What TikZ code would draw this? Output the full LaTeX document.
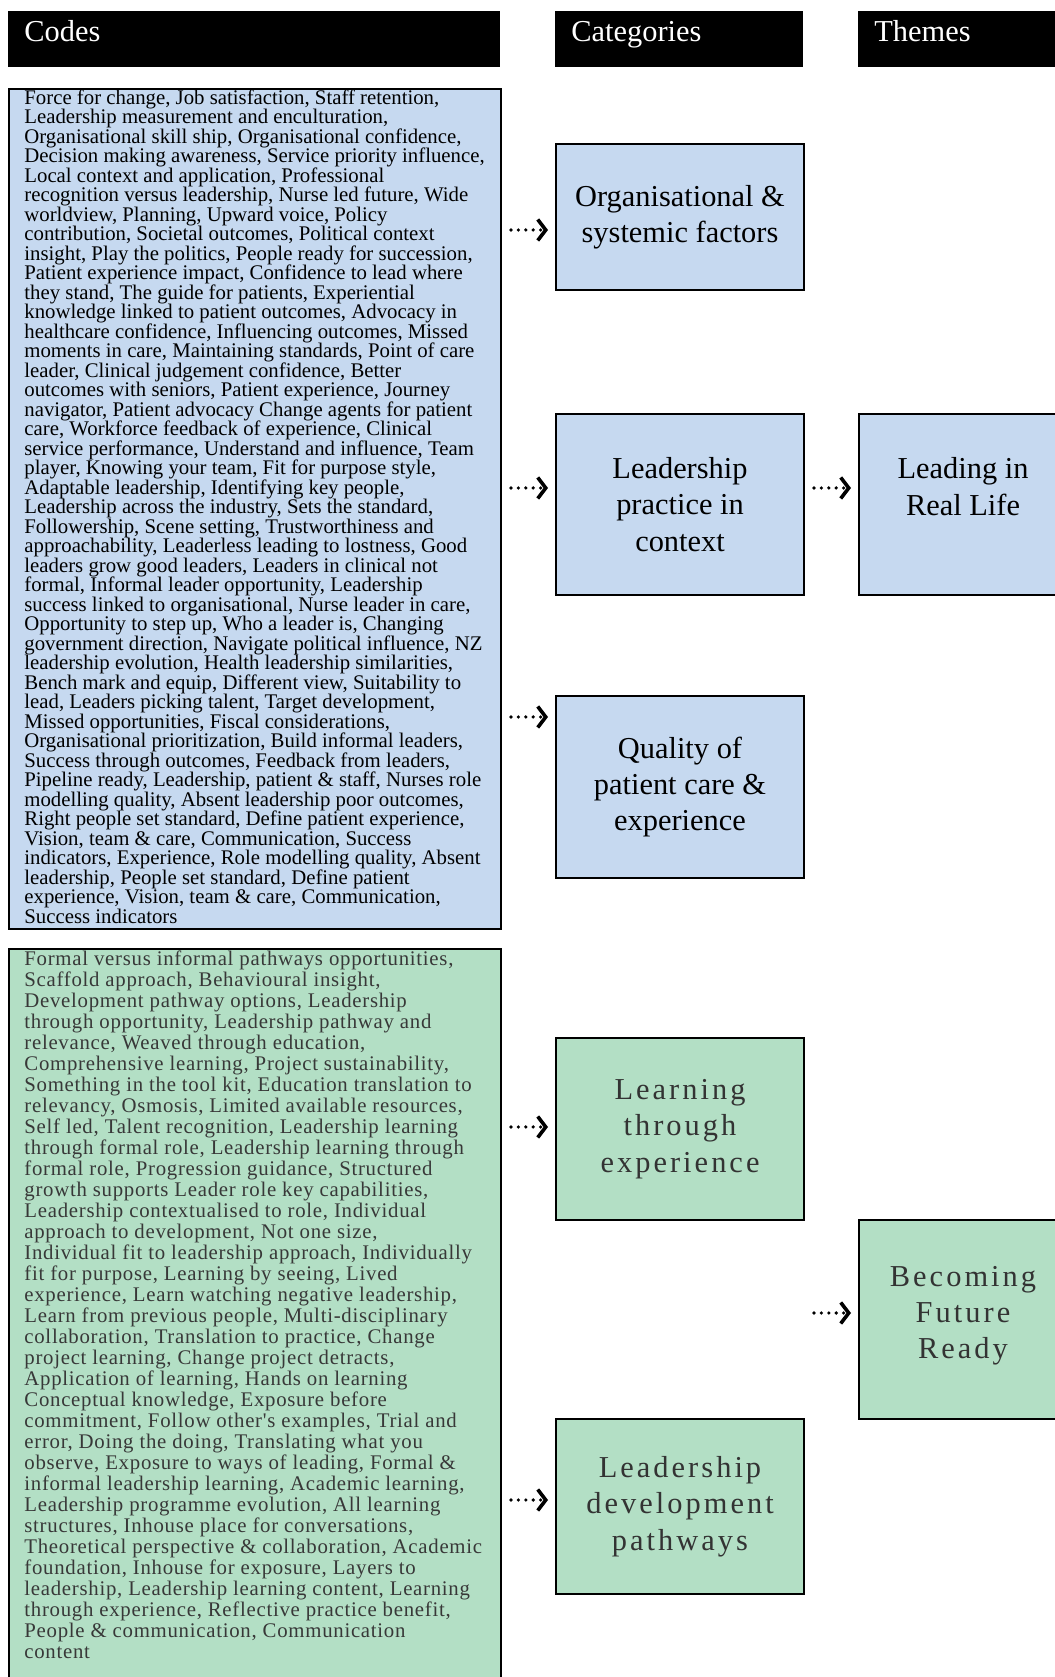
\documentclass[tikz,border=0pt]{standalone}
\usepackage{fontspec}
\setmainfont{Liberation Serif}
\newfontfamily\codefont[LetterSpace=3.5]{Liberation Serif}
\newfontfamily\catfont[LetterSpace=10]{Liberation Serif}
\usepackage{tikz}
\usepackage{xcolor}
\usetikzlibrary{arrows.meta}
\definecolor{blueF}{RGB}{198,217,240}
\definecolor{greenF}{RGB}{179,223,197}
\tikzset{
	hdr/.style={anchor=north west, fill=black, text=white, align=left,
		font=\fontsize{15.2}{18.2}\selectfont, inner xsep=8pt, inner ysep=0pt,
		text height=14.85pt, text depth=13.15pt},
	box/.style={anchor=north west, draw, line width=1pt, minimum width=124pt,
		align=center, font=\fontsize{15.2}{18.2}\selectfont},
	bluebox/.style={box, fill=blueF},
	greenbox/.style={box, fill=greenF, text=black!80,
		font=\catfont\fontsize{15.2}{18.2}\selectfont},
	codes/.style={anchor=north west, inner sep=0pt, align=left},
	flow/.style={line width=1.8pt, line cap=round, dash pattern=on 0pt off 3.7pt,
		shorten <=4.5pt, shorten >=3.5pt,
		-{Straight Barb[length=4pt,width=10.5pt,line width=1.8pt]}}
}

\begin{document}
\begin{tikzpicture}[x=0.5pt,y=0.5pt]
            \clip (0,0) rectangle (1055,1677);
            \node[hdr, text width=230pt] (hcodes) at (8,1666) {Codes};
            \node[hdr, text width=108pt] (hcats) at (555,1666) {Categories};
            \node[hdr, text width=88pt] (hthemes) at (858,1666) {Themes};

            \node[bluebox, minimum width=246pt, minimum height=420pt] (blue) at (8,1589) {};
            \node[codes, font=\fontsize{10.4}{9.75}\selectfont] (blueT) at (24,1588) {%
Force for change, Job satisfaction, Staff retention,\\
Leadership measurement and enculturation,\\
Organisational skill ship, Organisational confidence,\\
Decision making awareness, Service priority influence,\\
Local context and application, Professional\\
recognition versus leadership, Nurse led future, Wide\\
worldview, Planning, Upward voice, Policy\\
contribution, Societal outcomes, Political context\\
insight, Play the politics, People ready for succession,\\
Patient experience impact, Confidence to lead where\\
they stand, The guide for patients, Experiential\\
knowledge linked to patient outcomes, Advocacy in\\
healthcare confidence, Influencing outcomes, Missed\\
moments in care, Maintaining standards, Point of care\\
leader, Clinical judgement confidence, Better\\
outcomes with seniors, Patient experience, Journey\\
navigator, Patient advocacy Change agents for patient\\
care, Workforce feedback of experience, Clinical\\
service performance, Understand and influence, Team\\
player, Knowing your team, Fit for purpose style,\\
Adaptable leadership, Identifying key people,\\
Leadership across the industry, Sets the standard,\\
Followership, Scene setting, Trustworthiness and\\
approachability, Leaderless leading to lostness, Good\\
leaders grow good leaders, Leaders in clinical not\\
formal, Informal leader opportunity, Leadership\\
success linked to organisational, Nurse leader in care,\\
Opportunity to step up, Who a leader is, Changing\\
government direction, Navigate political influence, NZ\\
leadership evolution, Health leadership similarities,\\
Bench mark and equip, Different view, Suitability to\\
lead, Leaders picking talent, Target development,\\
Missed opportunities, Fiscal considerations,\\
Organisational prioritization, Build informal leaders,\\
Success through outcomes, Feedback from leaders,\\
Pipeline ready, Leadership, patient \& staff, Nurses role\\
modelling quality, Absent leadership poor outcomes,\\
Right people set standard, Define patient experience,\\
Vision, team \& care, Communication, Success\\
indicators, Experience, Role modelling quality, Absent\\
leadership, People set standard, Define patient\\
experience, Vision, team \& care, Communication,\\
Success indicators};

            \node[box, fill=greenF, minimum width=246pt, minimum height=380pt] (green) at (8,729) {};
            \node[codes, text=black!78, font=\codefont\fontsize{10.4}{10.5}\selectfont] (greenT) at (24,727) {%
Formal versus informal pathways opportunities,\\
Scaffold approach, Behavioural insight,\\
Development pathway options, Leadership\\
through opportunity, Leadership pathway and\\
relevance, Weaved through education,\\
Comprehensive learning, Project sustainability,\\
Something in the tool kit, Education translation to\\
relevancy, Osmosis, Limited available resources,\\
Self led, Talent recognition, Leadership learning\\
through formal role, Leadership learning through\\
formal role, Progression guidance, Structured\\
growth supports Leader role key capabilities,\\
Leadership contextualised to role, Individual\\
approach to development, Not one size,\\
Individual fit to leadership approach, Individually\\
fit for purpose, Learning by seeing, Lived\\
experience, Learn watching negative leadership,\\
Learn from previous people, Multi-disciplinary\\
collaboration, Translation to practice, Change\\
project learning, Change project detracts,\\
Application of learning, Hands on learning\\
Conceptual knowledge, Exposure before\\
commitment, Follow other's examples, Trial and\\
error, Doing the doing, Translating what you\\
observe, Exposure to ways of leading, Formal \&\\
informal leadership learning, Academic learning,\\
Leadership programme evolution, All learning\\
structures, Inhouse place for conversations,\\
Theoretical perspective \& collaboration, Academic\\
foundation, Inhouse for exposure, Layers to\\
leadership, Leadership learning content, Learning\\
through experience, Reflective practice benefit,\\
People \& communication, Communication\\
content};

            \node[bluebox, minimum height=73pt] (org) at (555,1534) {Organisational \&\\systemic factors};
            \node[bluebox, minimum height=90.5pt] (lpc) at (555,1264) {Leadership\\practice in\\context};
            \node[bluebox, minimum width=104pt, minimum height=90.5pt] (real) at (858,1264) {Leading in\\Real Life\\\phantom{x}};
            \node[bluebox, minimum height=91pt] (qual) at (555,982) {Quality of\\patient care \&\\experience};
            \node[greenbox, minimum height=91pt] (lte) at (555,640) {Learning\\through\\experience};
            \node[greenbox, minimum width=104pt, minimum height=99.5pt, text depth=7pt] (bfr) at (858,458) {Becoming\\Future\\Ready};
            \node[greenbox, minimum height=87.5pt] (ldp) at (555,259) {Leadership\\development\\pathways};

            \draw[flow] (blue.east |- 0,1447) -- (org.west |- 0,1447);
            \draw[flow] (blue.east |- 0,1189) -- (lpc.west |- 0,1189);
            \draw[flow] (blue.east |- 0,960) -- (qual.west |- 0,960);
            \draw[flow] (lpc.east |- 0,1189) -- (real.west |- 0,1189);
            \draw[flow] (green.east |- 0,550) -- (lte.west |- 0,550);
            \draw[flow] (lte.east |- 0,364) -- (bfr.west |- 0,364);
            \draw[flow] (green.east |- 0,177) -- (ldp.west |- 0,177);
        \end{tikzpicture}
\end{document}
